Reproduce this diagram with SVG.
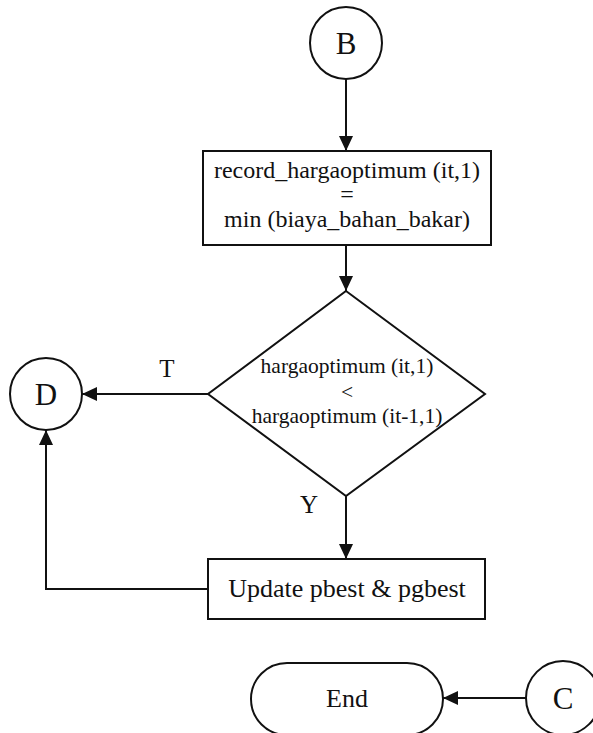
<svg xmlns="http://www.w3.org/2000/svg" width="593" height="733" viewBox="0 0 593 733">
<style>
.shape{fill:#fff;stroke:#111;stroke-width:2}
.edge{fill:none;stroke:#111;stroke-width:2}
text{font-family:"Liberation Serif","Times New Roman",serif;fill:#111;text-anchor:middle}
</style>
<defs>
<marker id="arr" markerUnits="userSpaceOnUse" markerWidth="16" markerHeight="14" refX="15" refY="7" orient="auto">
<path d="M0,0 L15,7 L0,14 Z" fill="#111"/>
</marker>
</defs>
<rect width="593" height="733" fill="#fff"/>
<g id="connectors">
<line class="edge" x1="346" y1="79" x2="346" y2="151" marker-end="url(#arr)"/>
<line class="edge" x1="346" y1="245" x2="346" y2="291" marker-end="url(#arr)"/>
<line class="edge" x1="208" y1="394" x2="82" y2="394" marker-end="url(#arr)"/>
<line class="edge" x1="346" y1="496" x2="346" y2="559" marker-end="url(#arr)"/>
<polyline class="edge" points="208,589 46,589 46,430" marker-end="url(#arr)"/>
<line class="edge" x1="526" y1="698" x2="443" y2="698" marker-end="url(#arr)"/>
<text x="167" y="377" font-size="25">T</text>
<text x="309" y="513" font-size="25">Y</text>
</g>
<g id="nodeB">
<circle class="shape" cx="346" cy="43" r="36"/>
<text x="346" y="54" font-size="31">B</text>
</g>
<g id="record">
<rect class="shape" x="203" y="151" width="288" height="94"/>
<text x="347" y="178" font-size="24">record_hargaoptimum (it,1)</text>
<text x="347" y="202" font-size="24">=</text>
<text x="347" y="227" font-size="24">min (biaya_bahan_bakar)</text>
</g>
<g id="decision">
<polygon class="shape" points="346,291 485,394 346,496 208,394"/>
<text x="347" y="373" font-size="21.5">hargaoptimum (it,1)</text>
<text x="347" y="399" font-size="21.5">&lt;</text>
<text x="347" y="423" font-size="21.5">hargaoptimum (it-1,1)</text>
</g>
<g id="nodeD">
<circle class="shape" cx="46" cy="394" r="36"/>
<text x="46" y="405" font-size="31">D</text>
</g>
<g id="update">
<rect class="shape" x="208" y="559" width="277" height="60"/>
<text x="347" y="597" font-size="26">Update pbest &amp; pgbest</text>
</g>
<g id="end">
<rect class="shape" x="251" y="663" width="192" height="72" rx="36" ry="36"/>
<text x="347" y="707" font-size="26">End</text>
</g>
<g id="nodeC">
<circle class="shape" cx="563" cy="698" r="37"/>
<text x="563" y="709" font-size="31">C</text>
</g>
</svg>
